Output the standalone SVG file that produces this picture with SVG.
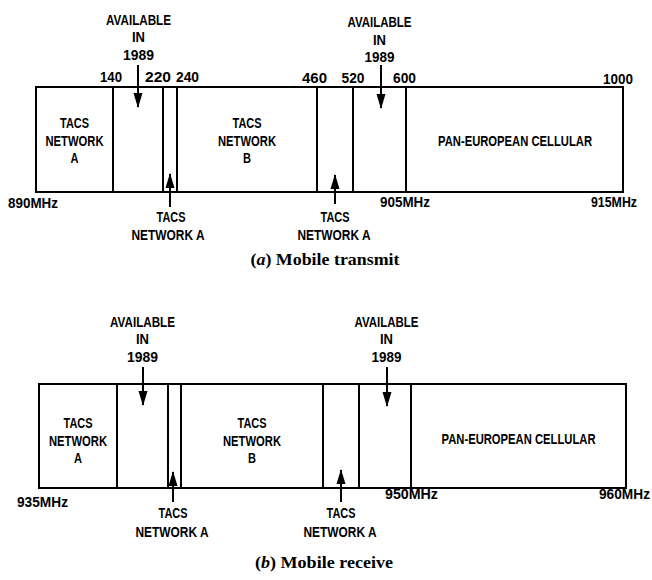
<svg xmlns="http://www.w3.org/2000/svg" width="652" height="580" viewBox="0 0 652 580">
<style>
.band{fill:#fff;stroke:#000;stroke-width:2}
.t{font-family:"Liberation Sans",Arial,sans-serif;font-weight:bold;font-size:14px;fill:#000;text-anchor:middle}
.s{text-anchor:start}
.cap{font-family:"Liberation Serif","Times New Roman",serif;font-weight:bold;font-size:16.5px;fill:#000;text-anchor:middle}
.arr{stroke:#000;stroke-width:2;fill:none;marker-end:url(#ah)}
</style>
<defs>
<marker id="ah" markerUnits="userSpaceOnUse" markerWidth="15" markerHeight="10" refX="14" refY="5" orient="auto" viewBox="0 0 15 10">
<path d="M0,0.5 L15,5 L0,9.5 Z" fill="#000"/>
</marker>
</defs>
<rect width="652" height="580" fill="#fff"/>

<!-- (a) Mobile transmit -->
<g id="a-tacs-a"><rect class="band" x="36" y="87" width="77" height="105"/>
<text class="t" x="74.5" y="128" textLength="29" lengthAdjust="spacingAndGlyphs">TACS</text>
<text class="t" x="74.5" y="146" textLength="58" lengthAdjust="spacingAndGlyphs">NETWORK</text>
<text class="t" x="74.5" y="163" textLength="8" lengthAdjust="spacingAndGlyphs">A</text></g>
<g id="a-avail-1"><rect class="band" x="113" y="87" width="50" height="105"/></g>
<g id="a-tacs-a-2"><rect class="band" x="163" y="87" width="14" height="105"/></g>
<g id="a-tacs-b"><rect class="band" x="177" y="87" width="140" height="105"/>
<text class="t" x="247" y="128" textLength="29" lengthAdjust="spacingAndGlyphs">TACS</text>
<text class="t" x="247" y="146" textLength="58" lengthAdjust="spacingAndGlyphs">NETWORK</text>
<text class="t" x="247" y="163" textLength="8" lengthAdjust="spacingAndGlyphs">B</text></g>
<g id="a-tacs-a-3"><rect class="band" x="317" y="87" width="36" height="105"/></g>
<g id="a-avail-2"><rect class="band" x="353" y="87" width="53" height="105"/></g>
<g id="a-pan"><rect class="band" x="406" y="87" width="217" height="105"/>
<text class="t" x="515" y="146" textLength="154" lengthAdjust="spacingAndGlyphs">PAN-EUROPEAN CELLULAR</text></g>

<g id="a-scale">
<text class="t" x="111" y="82" textLength="22" lengthAdjust="spacingAndGlyphs">140</text>
<text class="t" x="158" y="82" textLength="26" lengthAdjust="spacingAndGlyphs">220</text>
<text class="t" x="187.5" y="82" textLength="23" lengthAdjust="spacingAndGlyphs">240</text>
<text class="t" x="314.5" y="83" textLength="25" lengthAdjust="spacingAndGlyphs">460</text>
<text class="t" x="353" y="83" textLength="23" lengthAdjust="spacingAndGlyphs">520</text>
<text class="t" x="404.5" y="83" textLength="23" lengthAdjust="spacingAndGlyphs">600</text>
<text class="t" x="618" y="84" textLength="30" lengthAdjust="spacingAndGlyphs">1000</text>
<text class="t s" x="8" y="208" textLength="50" lengthAdjust="spacingAndGlyphs">890MHz</text>
<text class="t s" x="380" y="207" textLength="50" lengthAdjust="spacingAndGlyphs">905MHz</text>
<text class="t s" x="591" y="207" textLength="46" lengthAdjust="spacingAndGlyphs">915MHz</text>
</g>

<g id="a-label-avail-1">
<text class="t" x="138.5" y="25" textLength="65" lengthAdjust="spacingAndGlyphs">AVAILABLE</text>
<text class="t" x="138.5" y="42" textLength="13" lengthAdjust="spacingAndGlyphs">IN</text>
<text class="t" x="138.5" y="60" textLength="31" lengthAdjust="spacingAndGlyphs">1989</text></g>
<g id="a-label-avail-2">
<text class="t" x="379.5" y="27" textLength="64" lengthAdjust="spacingAndGlyphs">AVAILABLE</text>
<text class="t" x="379.5" y="45" textLength="13" lengthAdjust="spacingAndGlyphs">IN</text>
<text class="t" x="379.5" y="62" textLength="30" lengthAdjust="spacingAndGlyphs">1989</text></g>
<g id="a-label-tacs-1">
<text class="t" x="171" y="222" textLength="29" lengthAdjust="spacingAndGlyphs">TACS</text>
<text class="t" x="168" y="240" textLength="73" lengthAdjust="spacingAndGlyphs">NETWORK A</text></g>
<g id="a-label-tacs-2">
<text class="t" x="335" y="222" textLength="29" lengthAdjust="spacingAndGlyphs">TACS</text>
<text class="t" x="334" y="240" textLength="73" lengthAdjust="spacingAndGlyphs">NETWORK A</text></g>

<text class="cap" x="325" y="265" textLength="149" lengthAdjust="spacingAndGlyphs">(<tspan font-style="italic">a</tspan>)  Mobile transmit</text>

<!-- (b) Mobile receive -->
<g id="b-tacs-a"><rect class="band" x="39" y="384" width="78" height="104"/>
<text class="t" x="78" y="428" textLength="29" lengthAdjust="spacingAndGlyphs">TACS</text>
<text class="t" x="78" y="446" textLength="58" lengthAdjust="spacingAndGlyphs">NETWORK</text>
<text class="t" x="78" y="463" textLength="8" lengthAdjust="spacingAndGlyphs">A</text></g>
<g id="b-avail-1"><rect class="band" x="117" y="384" width="51" height="104"/></g>
<g id="b-tacs-a-2"><rect class="band" x="168" y="384" width="13" height="104"/></g>
<g id="b-tacs-b"><rect class="band" x="181" y="384" width="142" height="104"/>
<text class="t" x="252" y="428" textLength="29" lengthAdjust="spacingAndGlyphs">TACS</text>
<text class="t" x="252" y="446" textLength="58" lengthAdjust="spacingAndGlyphs">NETWORK</text>
<text class="t" x="252" y="463" textLength="8" lengthAdjust="spacingAndGlyphs">B</text></g>
<g id="b-tacs-a-3"><rect class="band" x="323" y="384" width="36" height="104"/></g>
<g id="b-avail-2"><rect class="band" x="359" y="384" width="52" height="104"/></g>
<g id="b-pan"><rect class="band" x="411" y="384" width="215" height="104"/>
<text class="t" x="518.5" y="444" textLength="154" lengthAdjust="spacingAndGlyphs">PAN-EUROPEAN CELLULAR</text></g>

<g id="b-scale">
<text class="t s" x="17" y="507" textLength="51" lengthAdjust="spacingAndGlyphs">935MHz</text>
<text class="t s" x="385" y="499" textLength="53" lengthAdjust="spacingAndGlyphs">950MHz</text>
<text class="t s" x="599" y="499" textLength="51" lengthAdjust="spacingAndGlyphs">960MHz</text>
</g>

<g id="b-label-avail-1">
<text class="t" x="142.5" y="327" textLength="65" lengthAdjust="spacingAndGlyphs">AVAILABLE</text>
<text class="t" x="142.5" y="344" textLength="13" lengthAdjust="spacingAndGlyphs">IN</text>
<text class="t" x="142.5" y="362" textLength="31" lengthAdjust="spacingAndGlyphs">1989</text></g>
<g id="b-label-avail-2">
<text class="t" x="386.5" y="327" textLength="64" lengthAdjust="spacingAndGlyphs">AVAILABLE</text>
<text class="t" x="386.5" y="344" textLength="13" lengthAdjust="spacingAndGlyphs">IN</text>
<text class="t" x="386.5" y="362" textLength="30" lengthAdjust="spacingAndGlyphs">1989</text></g>
<g id="b-label-tacs-1">
<text class="t" x="173" y="518" textLength="29" lengthAdjust="spacingAndGlyphs">TACS</text>
<text class="t" x="172" y="537" textLength="73" lengthAdjust="spacingAndGlyphs">NETWORK A</text></g>
<g id="b-label-tacs-2">
<text class="t" x="341" y="518" textLength="29" lengthAdjust="spacingAndGlyphs">TACS</text>
<text class="t" x="340" y="537" textLength="73" lengthAdjust="spacingAndGlyphs">NETWORK A</text></g>

<text class="cap" x="324" y="568" textLength="138" lengthAdjust="spacingAndGlyphs">(<tspan font-style="italic">b</tspan>)  Mobile receive</text>

<g id="connectors">
<line class="arr" x1="138" y1="65" x2="138" y2="107"/>
<line class="arr" x1="381" y1="65" x2="381" y2="108"/>
<line class="arr" x1="170" y1="207" x2="170" y2="174"/>
<line class="arr" x1="335" y1="204" x2="335" y2="175"/>
<line class="arr" x1="143" y1="367" x2="143" y2="405"/>
<line class="arr" x1="387" y1="367" x2="387" y2="406"/>
<line class="arr" x1="173" y1="502" x2="173" y2="472"/>
<line class="arr" x1="341" y1="502" x2="341" y2="470"/>
</g>
</svg>
